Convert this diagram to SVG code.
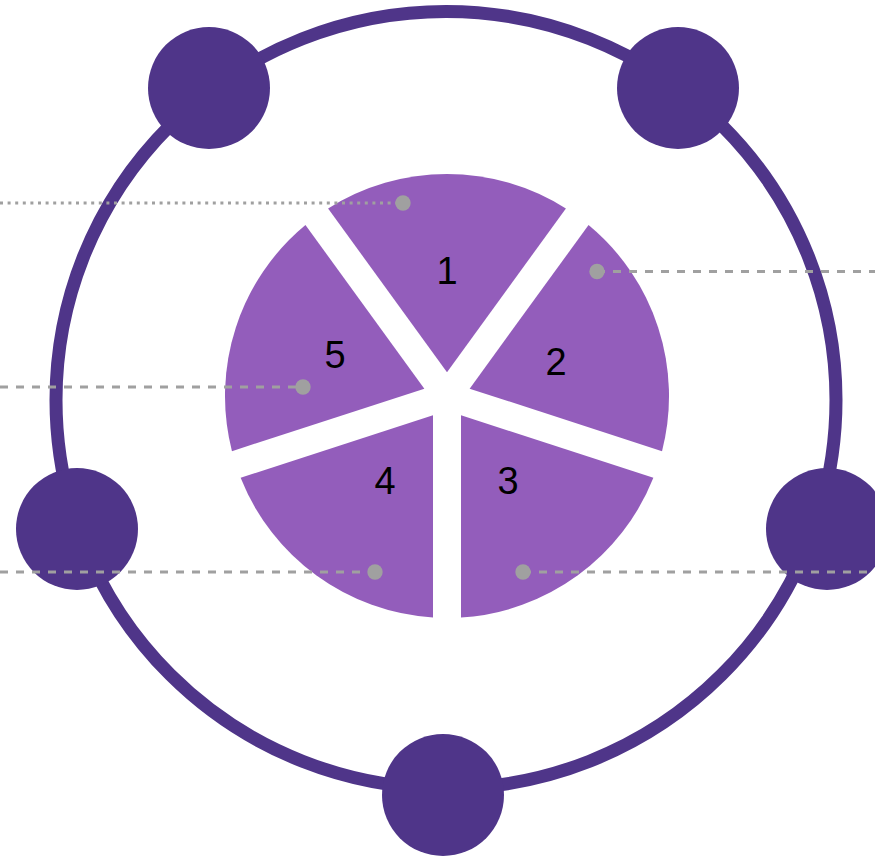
<svg xmlns="http://www.w3.org/2000/svg" width="875" height="856" viewBox="0 0 875 856">
<style>
.ring{fill:none;stroke:#4F3589;stroke-width:13}
.node{fill:#4F3589}
.slice{fill:#935DBB}
.num{font-family:"Liberation Sans",Arial,sans-serif;font-size:38px;fill:#000;text-anchor:middle}
.lead{fill:none;stroke:#A0A0A0;stroke-width:3.2}
.dash{stroke-dasharray:8 8}
.dot{stroke-dasharray:3 4.6}
.end{fill:#A0A0A0}
</style>
<rect width="875" height="856" fill="#fff"/>
<ellipse id="ring" class="ring" cx="446" cy="400" rx="390" ry="388.5"/>
<g id="node-top-left"><circle class="node" cx="209" cy="88" r="61"/></g>
<g id="node-top-right"><circle class="node" cx="678" cy="88" r="61"/></g>
<g id="node-left"><circle class="node" cx="77" cy="529" r="61"/></g>
<g id="node-right"><circle class="node" cx="827" cy="529" r="61"/></g>
<g id="node-bottom"><circle class="node" cx="443" cy="795" r="61"/></g>
<g id="slice-1"><path class="slice" d="M447,372.2 L328.1,208.5 A222,222 0 0 1 565.9,208.5 Z"/><text class="num" x="447" y="284">1</text></g>
<g id="slice-2"><path class="slice" d="M469.65,388.64 L588.56,224.99 A222,222 0 0 1 662.05,451.14 Z"/><text class="num" x="556" y="375">2</text></g>
<g id="slice-3"><path class="slice" d="M461,415.27 L653.39,477.78 A222,222 0 0 1 461,617.56 Z"/><text class="num" x="508" y="494">3</text></g>
<g id="slice-4"><path class="slice" d="M433,415.27 L433,617.56 A222,222 0 0 1 240.61,477.78 Z"/><text class="num" x="385" y="494">4</text></g>
<g id="slice-5"><path class="slice" d="M424.35,388.64 L231.95,451.14 A222,222 0 0 1 305.44,224.99 Z"/><text class="num" x="335" y="368">5</text></g>
<g id="connectors">
<line class="lead dot" x1="0" y1="203" x2="403" y2="203"/>
<circle class="end" cx="403" cy="203" r="7.7"/>
<line class="lead dash" x1="597" y1="271.5" x2="875" y2="271.5"/>
<circle class="end" cx="597" cy="271.5" r="7.7"/>
<line class="lead dash" x1="0" y1="387" x2="303" y2="387"/>
<circle class="end" cx="303" cy="387" r="7.7"/>
<line class="lead dash" x1="0" y1="572" x2="375" y2="572"/>
<circle class="end" cx="375" cy="572" r="7.7"/>
<line class="lead dash" x1="523" y1="572" x2="875" y2="572"/>
<circle class="end" cx="523" cy="572" r="7.7"/>
</g>
</svg>
